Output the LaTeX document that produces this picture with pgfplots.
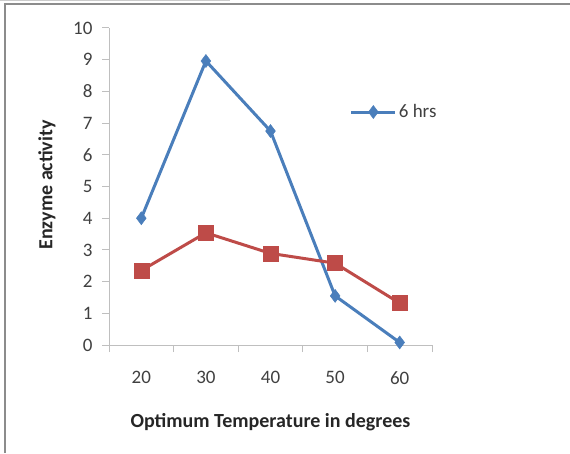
\documentclass[border=0pt]{standalone}
\usepackage{pgfplots}
\pgfplotsset{compat=1.18}
\usepackage{fontspec}
\setmainfont{Carlito}
\definecolor{xblue}{HTML}{4A7EBB}
\definecolor{xred}{HTML}{BE4B48}
\definecolor{axgray}{HTML}{BFBFBF}
\definecolor{txtgray}{HTML}{404040}
\begin{document}
\begin{tikzpicture}
\useasboundingbox (0,0) rectangle (570pt,453pt);
\draw[color=black!45, line width=2pt] (5pt,0) -- (5pt,449pt) -- (570pt,449pt);
\draw[color=black!20, line width=1pt] (0,452.5pt) -- (230pt,452.5pt);
\begin{axis}[
  at={(109pt,108pt)}, anchor=south west, scale only axis,
  width=323pt, height=317pt,
  xmin=-0.5, xmax=4.5, ymin=0, ymax=10,
  axis lines*=left,
  axis line style={axgray, line width=1pt},
  clip=false,
  xtick={0,...,4}, xticklabels={20,30,40,50,60},
  minor xtick={-0.5,0.5,...,4.5},
  ytick={0,...,10},
  tick align=outside,
  major tick length=7pt, minor tick length=7pt,
  major x tick style={draw=none},
  minor x tick style={axgray, line width=1pt},
  major y tick style={axgray, line width=1pt},
  /pgf/number format/assume math mode=true,
  tick label style={font=\fontsize{19}{22}\selectfont, text=txtgray},
  xticklabel style={yshift=-16pt},
  yticklabel style={xshift=-6pt},
  xlabel={Optimum Temperature in degrees},
  ylabel={Enzyme activity},
  label style={font=\bfseries\fontsize{20}{24}\selectfont, text=black!85},
  xlabel style={at={(axis description cs:0.5,-0.243)}, anchor=center},
  ylabel style={at={(axis description cs:-0.192,0.505)}, anchor=center, rotate=0},
  legend style={at={(0.745,0.735)}, anchor=west, draw=none, fill=none,
    inner sep=0pt, font=\fontsize{19}{22}\selectfont, text=txtgray},
  legend image code/.code={\draw[mark repeat=2,mark phase=2] plot coordinates {(0pt,0pt) (22pt,0pt) (44pt,0pt)};},
]
\addplot[xblue, line width=3pt, mark=diamond*, mark size=6.5pt, mark options={line width=0.5pt}]
  coordinates {(0,4.0) (1,8.96) (2,6.75) (3,1.55) (4,0.08)};
\addlegendentry{6 hrs}
\addplot[xred, line width=3pt, mark=square*, mark size=7.5pt, mark options={line width=0.5pt}, forget plot]
  coordinates {(0,2.35) (1,3.54) (2,2.89) (3,2.58) (4,1.32)};
\end{axis}
\end{tikzpicture}
\end{document}
